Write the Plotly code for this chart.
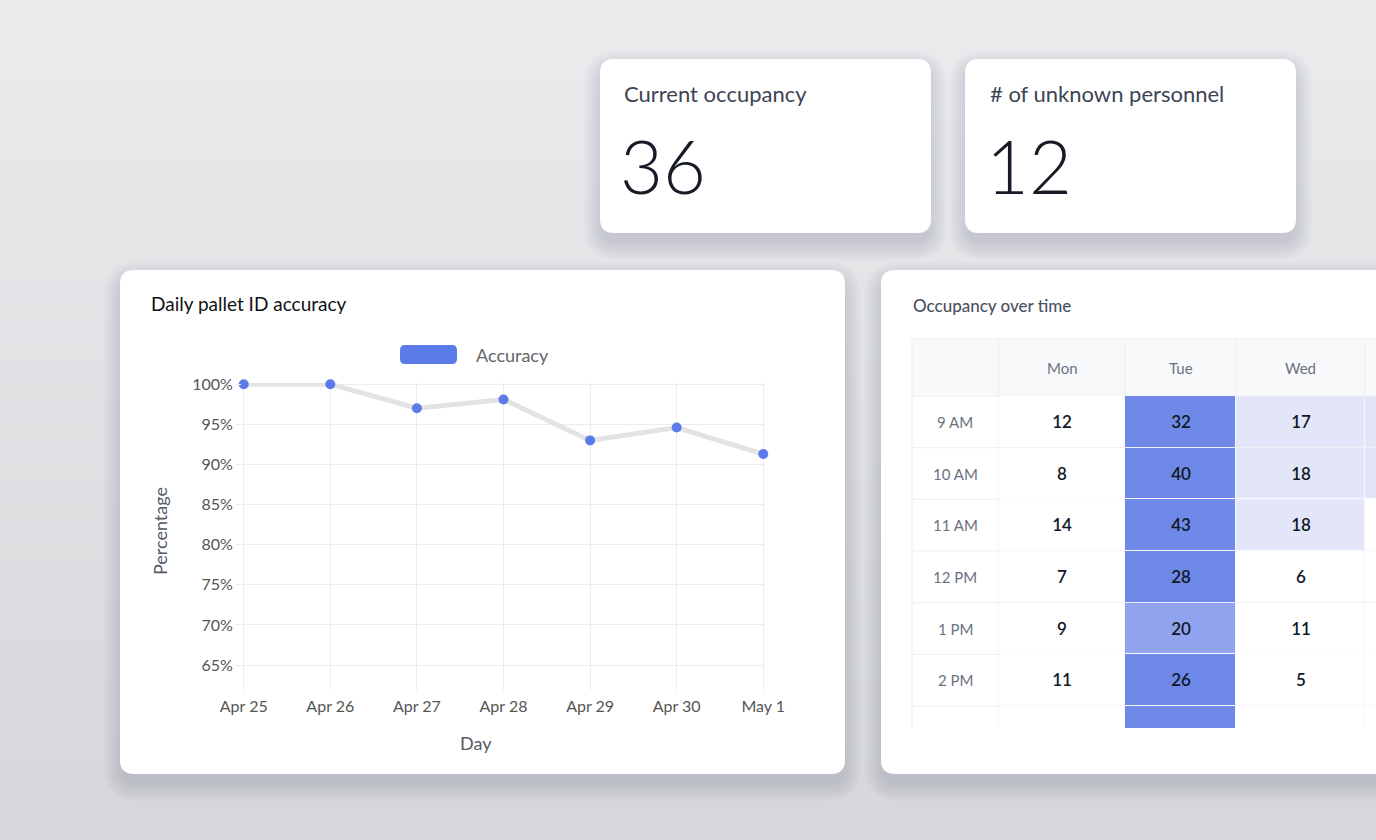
import plotly.graph_objects as go

# ---------------- data ----------------
days = ["Apr 25", "Apr 26", "Apr 27", "Apr 28", "Apr 29", "Apr 30", "May 1"]
accuracy = [100.0, 100.0, 97.0, 98.1, 93.0, 94.6, 91.3]
y_ticks = [65, 70, 75, 80, 85, 90, 95, 100]

current_occupancy = 36
unknown_personnel = 12

weekdays = ["Mon", "Tue", "Wed", "Thu"]
hours = ["9 AM", "10 AM", "11 AM", "12 PM", "1 PM", "2 PM", "3 PM"]
occ_mon = [12, 8, 14, 7, 9, 11, 4]
occ_tue = [32, 40, 43, 28, 20, 26, 30]
occ_wed = [17, 18, 18, 6, 11, 5, 8]
occ_thu = [16, 17, 10, 9, 8, 7, 6]

# ---------------- layout helpers ----------------
W, H = 1376, 840
FONT = "Lato"


def px(x):
    return x / W


def py(y):
    return 1 - y / H


def rr_path(x0, y0, x1, y1, r):
    p = lambda x, y: f"{px(x):.5f},{py(y):.5f}"
    return (f"M {p(x0 + r, y0)} L {p(x1 - r, y0)} Q {p(x1, y0)} {p(x1, y0 + r)} "
            f"L {p(x1, y1 - r)} Q {p(x1, y1)} {p(x1 - r, y1)} "
            f"L {p(x0 + r, y1)} Q {p(x0, y1)} {p(x0, y1 - r)} "
            f"L {p(x0, y0 + r)} Q {p(x0, y0)} {p(x0 + r, y0)} Z")


shapes = []

# background vertical gradient
top_c, bot_c = (234, 235, 237), (213, 215, 218)
nb = 42
for i in range(nb):
    t = i / (nb - 1)
    c = tuple(round(a + (b - a) * t) for a, b in zip(top_c, bot_c))
    shapes.append(dict(type="rect", xref="paper", yref="paper", layer="below",
                       x0=0, x1=1, y0=py(i * H / nb + H / nb + 1), y1=py(i * H / nb),
                       line=dict(width=0), fillcolor=f"rgb{c}"))

cards = [
    (600, 59, 931, 233),
    (965, 59, 1296, 233),
    (120, 270, 845, 774),
    (881, 270, 1420, 774),
]
# soft shadows
for (x0, y0, x1, y1) in cards:
    for k in range(1, 9):
        e = k * 2.5
        shapes.append(dict(type="path", xref="paper", yref="paper", layer="below",
                           path=rr_path(x0 - e + 4, y0 - e + 12, x1 + e - 4, y1 + e + 7, 14 + e),
                           line=dict(width=0), fillcolor="rgba(70,72,80,0.018)"))
for (x0, y0, x1, y1) in cards:
    shapes.append(dict(type="path", xref="paper", yref="paper", layer="below",
                       path=rr_path(x0, y0, x1, y1, 14),
                       line=dict(width=0), fillcolor="#ffffff"))

# table structure
tbl_x0, tbl_x1 = 912, 1376
label_col_edge = 999
col_edges = [999, 1125, 1236, 1365, 1494]
head_y0, head_y1 = 339, 396
row_h = 51.67
tbl_bottom = 728
grid_c = "#edeef1"

shapes.append(dict(type="rect", xref="paper", yref="paper", layer="below",
                   x0=px(tbl_x0), x1=px(tbl_x1), y0=py(head_y1), y1=py(head_y0),
                   line=dict(width=0), fillcolor="#f8f9fb"))
h_lines = [head_y0, head_y1] + [head_y1 + row_h * (i + 1) for i in range(len(hours) - 1)]
for yy in h_lines:
    shapes.append(dict(type="line", xref="paper", yref="paper", layer="below",
                       x0=px(tbl_x0), x1=px(tbl_x1), y0=py(yy), y1=py(yy),
                       line=dict(color=grid_c, width=1)))
for xx in [tbl_x0, label_col_edge] + col_edges[1:-1]:
    shapes.append(dict(type="line", xref="paper", yref="paper", layer="below",
                       x0=px(xx), x1=px(xx), y0=py(tbl_bottom), y1=py(head_y0),
                       line=dict(color=grid_c, width=1)))

# legend swatch
shapes.append(dict(type="path", xref="paper", yref="paper", layer="above",
                   path=rr_path(400, 345, 457, 364, 5),
                   line=dict(width=0), fillcolor="#5b7be9"))

fig = go.Figure()

# line chart
fig.add_trace(go.Scatter(
    x=list(range(len(days))), y=accuracy, mode="lines+markers",
    line=dict(color="#e3e3e3", width=5),
    marker=dict(color="#5b7be9", size=10, line=dict(width=0)),
    cliponaxis=False, showlegend=False, hoverinfo="skip",
    xaxis="x", yaxis="y"))

# occupancy heatmap
z = [[m, t, w, th] for m, t, w, th in zip(occ_mon, occ_tue, occ_wed, occ_thu)]
zmax = 45
cs = [[0, "#ffffff"], [14.5 / zmax, "#ffffff"],
      [14.5 / zmax, "#e2e6f8"], [19.5 / zmax, "#e2e6f8"],
      [19.5 / zmax, "#90a3ee"], [25.5 / zmax, "#90a3ee"],
      [25.5 / zmax, "#6f89e8"], [1, "#6f89e8"]]
fig.add_trace(go.Heatmap(
    z=z, x=col_edges, y=list(range(len(hours))),
    zmin=0, zmax=zmax, colorscale=cs, showscale=False,
    xgap=1, ygap=1, texttemplate="%{z}",
    textfont=dict(family=FONT, size=17, color="#111827", weight=600),
    hoverinfo="skip", xaxis="x2", yaxis="y2"))

row_bottom_range = -0.5 + (tbl_bottom - head_y1) / row_h

fig.update_layout(
    width=W, height=H, margin=dict(l=0, r=0, t=0, b=0, autoexpand=False),
    paper_bgcolor="#e3e4e6", plot_bgcolor="rgba(0,0,0,0)",
    font=dict(family=FONT),
    shapes=shapes, showlegend=False,
    xaxis=dict(domain=[px(242), px(765)], range=[-0.02, 6.02],
               tickvals=list(range(len(days))), ticktext=days,
               showgrid=True, gridcolor="#ececec", gridwidth=1,
               zeroline=False, showline=False, ticks="", automargin=False,
               ticklabelstandoff=5,
               tickfont=dict(family=FONT, size=16, color="#555555"),
               fixedrange=True),
    yaxis=dict(domain=[py(690), py(383)], range=[61.9, 100.15],
               tickvals=y_ticks, ticktext=[f"{v}%" for v in y_ticks],
               showgrid=True, gridcolor="#ececec", gridwidth=1,
               zeroline=False, showline=False, automargin=False,
               ticks="outside", ticklen=5, tickcolor="#ececec",
               tickfont=dict(family=FONT, size=16, color="#555555"),
               fixedrange=True),
    xaxis2=dict(domain=[px(tbl_x0), 1], range=[tbl_x0, tbl_x1], visible=False,
                anchor="y2", automargin=False),
    yaxis2=dict(domain=[py(tbl_bottom), py(head_y1)],
                range=[row_bottom_range, -0.5], visible=False, anchor="x2",
                automargin=False),
)

ann = []
# KPI cards
ann.append(dict(x=px(622), y=py(93), xref="paper", yref="paper", text="Current occupancy",
                showarrow=False, xanchor="left", yanchor="middle",
                font=dict(family=FONT, size=22, color="#3d4454")))
ann.append(dict(x=px(618), y=py(166), xref="paper", yref="paper", text=str(current_occupancy),
                showarrow=False, xanchor="left", yanchor="middle",
                font=dict(family=FONT, size=74, color="#161b26", weight=300)))
ann.append(dict(x=px(988), y=py(93), xref="paper", yref="paper", text="# of unknown personnel",
                showarrow=False, xanchor="left", yanchor="middle",
                font=dict(family=FONT, size=22, color="#3d4454")))
ann.append(dict(x=px(984), y=py(166), xref="paper", yref="paper", text=str(unknown_personnel),
                showarrow=False, xanchor="left", yanchor="middle",
                font=dict(family=FONT, size=74, color="#161b26", weight=300)))
# line chart card
ann.append(dict(x=px(149), y=py(303), xref="paper", yref="paper", text="Daily pallet ID accuracy",
                showarrow=False, xanchor="left", yanchor="middle",
                font=dict(family=FONT, size=19, color="#111111")))
ann.append(dict(x=px(474), y=py(355), xref="paper", yref="paper", text="Accuracy",
                showarrow=False, xanchor="left", yanchor="middle",
                font=dict(family=FONT, size=18, color="#666666")))
ann.append(dict(x=px(160), y=py(531), xref="paper", yref="paper", text="Percentage",
                showarrow=False, textangle=-90, xanchor="center", yanchor="middle",
                font=dict(family=FONT, size=18, color="#555a66")))
ann.append(dict(x=px(476), y=py(743), xref="paper", yref="paper", text="Day",
                showarrow=False, xanchor="center", yanchor="middle",
                font=dict(family=FONT, size=18, color="#555a66")))
# table card
ann.append(dict(x=px(911), y=py(305), xref="paper", yref="paper", text="Occupancy over time",
                showarrow=False, xanchor="left", yanchor="middle",
                font=dict(family=FONT, size=17, color="#4b5263", weight=500)))
for i, d in enumerate(weekdays):
    cx = (col_edges[i] + col_edges[i + 1]) / 2
    if cx > tbl_x1:
        continue
    ann.append(dict(x=cx, y=py((head_y0 + head_y1) / 2), xref="x2", yref="paper", text=d,
                    showarrow=False, xanchor="center", yanchor="middle",
                    font=dict(family=FONT, size=15, color="#6b7280")))
for i, h in enumerate(hours):
    if i > row_bottom_range:
        continue
    ann.append(dict(x=(tbl_x0 + label_col_edge) / 2, y=i, xref="x2", yref="y2", text=h,
                    showarrow=False, xanchor="center", yanchor="middle",
                    font=dict(family=FONT, size=15, color="#6b7280")))
fig.update_layout(annotations=ann)

fig.write_html("out.html",
               config={"displayModeBar": False, "staticPlot": True},
               post_script="document.body.style.margin='0';document.body.style.overflow='hidden';")
